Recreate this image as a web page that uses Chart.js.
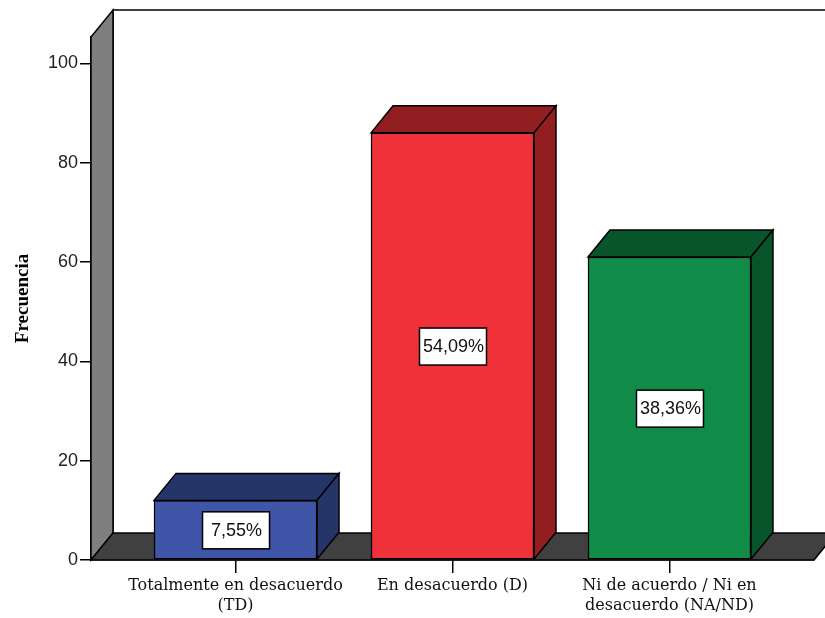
<!DOCTYPE html>
<html>
<head>
<meta charset="utf-8">
<script src="https://cdn.jsdelivr.net/npm/chart.js@4/dist/chart.umd.min.js"></script>
<style>
  body { margin: 0; background: #fff; }
  #wrap { width: 825px; height: 618px; }
</style>
</head>
<body>
<div id="wrap"><canvas id="frecuencia" width="825" height="618"></canvas></div>
<script>
// categories and values
var categories = [['Totalmente en desacuerdo', '(TD)'], 'En desacuerdo (D)', ['Ni de acuerdo / Ni en', 'desacuerdo (NA/ND)']];
var counts = [12, 86, 61];
var percents = ['7,55%', '54,09%', '38,36%'];
var yTicks = [0, 20, 40, 60, 80, 100];

var frontColors = ['#3f56a8', '#ef313a', '#108b48'];
var shadeColors = ['#263568', '#921e22', '#08552b'];

// 3d depth of walls and bars
var DX = 22, DY = -27;

function poly(ctx, pts, fill) {
  ctx.beginPath();
  ctx.moveTo(pts[0][0], pts[0][1]);
  for (var i = 1; i < pts.length; i++) ctx.lineTo(pts[i][0], pts[i][1]);
  ctx.closePath();
  ctx.fillStyle = fill;
  ctx.fill();
  ctx.stroke();
}

var box3d = {
  id: 'box3d',
  beforeDatasetsDraw: function(chart) {
    var ctx = chart.ctx, a = chart.chartArea;
    var base = chart.scales.y.getPixelForValue(0);
    ctx.save();
    ctx.strokeStyle = '#000';
    ctx.lineWidth = 1.5;
    // back wall outline
    ctx.beginPath();
    ctx.moveTo(a.left + DX, base + DY);
    ctx.lineTo(a.left + DX, a.top + DY);
    ctx.lineTo(a.right + DX, a.top + DY);
    ctx.stroke();
    // left side wall
    poly(ctx, [[a.left, a.top], [a.left + DX, a.top + DY], [a.left + DX, base + DY], [a.left, base]], '#7f7f7f');
    // floor
    poly(ctx, [[a.left, base], [a.right, base], [a.right + DX, base + DY], [a.left + DX, base + DY]], '#404040');
    ctx.restore();
  },
  afterDatasetsDraw: function(chart) {
    var ctx = chart.ctx;
    var meta = chart.getDatasetMeta(0);
    ctx.save();
    ctx.strokeStyle = '#000';
    ctx.lineWidth = 1.5;
    meta.data.forEach(function(bar, i) {
      var l = bar.x - bar.width / 2, r = bar.x + bar.width / 2;
      poly(ctx, [[l, bar.y], [l + DX, bar.y + DY], [r + DX, bar.y + DY], [r, bar.y]], shadeColors[i]);
      poly(ctx, [[r, bar.y], [r + DX, bar.y + DY], [r + DX, bar.base + DY], [r, bar.base]], shadeColors[i]);
      // percent label
      var cy = (bar.y + bar.base) / 2;
      ctx.fillStyle = '#fff';
      ctx.fillRect(bar.x - 33, cy - 18, 67, 37);
      ctx.strokeRect(bar.x - 33, cy - 18, 67, 37);
      ctx.fillStyle = '#111';
      ctx.font = '18px "Liberation Sans", Arial, sans-serif';
      ctx.textAlign = 'center';
      ctx.textBaseline = 'middle';
      ctx.fillText(percents[i], bar.x + 1, cy + 1);
    });
    ctx.restore();
  }
};

var ctx = document.getElementById('frecuencia').getContext('2d');
var myChart = new Chart(ctx, {
  type: 'bar',
  data: {
    datasets: [{
      data: counts.map(function(v, i) { return { x: i, y: v }; }),
      backgroundColor: frontColors,
      borderColor: '#000',
      borderWidth: 1.5,
      borderSkipped: false,
      barThickness: 163
    }]
  },
  plugins: [box3d],
  options: {
    responsive: false,
    animation: false,
    layout: { padding: { top: 37, right: 11, left: 0, bottom: 0 } },
    plugins: {
      legend: { display: false },
      tooltip: { enabled: false }
    },
    scales: {
      x: {
        type: 'linear',
        min: -0.666,
        max: 2.666,
        offset: false,
        afterBuildTicks: function(s) {
          s.ticks = categories.map(function(c, i) { return { value: i }; });
        },
        afterFit: function(s) { s.height = 58; },
        grid: { drawOnChartArea: false, offset: false, tickLength: 13, color: '#000', lineWidth: 1.5 },
        border: { display: true, color: '#000', width: 1.5 },
        ticks: {
          autoSkip: false,
          maxRotation: 0,
          padding: 2,
          color: '#111',
          font: { family: '"DejaVu Serif", serif', size: 16, lineHeight: 1.3 },
          callback: function(v) { return categories[v]; }
        }
      },
      y: {
        min: 0,
        max: 105.3,
        afterBuildTicks: function(s) {
          s.ticks = yTicks.map(function(v) { return { value: v }; });
        },
        afterFit: function(s) { s.width = 91; },
        grid: { drawOnChartArea: false, tickLength: 11, color: '#000', lineWidth: 1.5 },
        border: { display: true, color: '#000', width: 1.5 },
        ticks: {
          padding: 2,
          color: '#222',
          font: { family: '"Liberation Sans", Arial, sans-serif', size: 18 }
        },
        title: {
          display: true,
          text: 'Frecuencia',
          color: '#000',
          padding: { top: 12, bottom: 4 },
          font: { family: '"Liberation Serif", "Times New Roman", serif', size: 19, weight: 'bold' }
        }
      }
    }
  }
});
</script>
</body>
</html>
